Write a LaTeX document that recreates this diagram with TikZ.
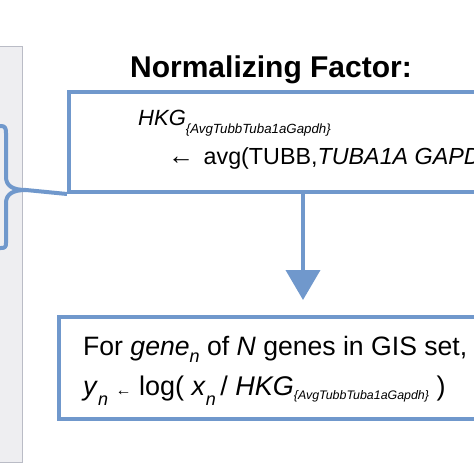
\documentclass[tikz,border=0pt]{standalone}
\usepackage{fontspec}
\setmainfont{Liberation Sans}
\usetikzlibrary{arrows.meta}

\definecolor{flowblue}{RGB}{112,152,204}
\definecolor{panelgray}{RGB}{238,238,241}
\definecolor{panelline}{RGB}{186,188,198}

\tikzset{
  flowbox/.style={draw=flowblue, line width=4pt, rectangle, fill=white, inner sep=0pt},
  panel/.style={draw=panelline, line width=1pt, fill=panelgray, rectangle, inner sep=0pt},
  flowline/.style={draw=flowblue, line width=4pt},
  label/.style={inner sep=0pt, anchor=base west}
}

% #1 size of the subscript, #2 how far it drops
\newcommand{\hkgsub}[2]{\textit{HKG}\raisebox{-#2}{\fontsize{#1}{#1}\selectfont\textit{\{AvgTubbTuba1aGapdh\}}}}
\newcommand{\subn}[1]{\raisebox{-#1}{\fontsize{18}{18}\selectfont\textit{n}}}

\begin{document}
\begin{tikzpicture}[x=1pt, y=-1pt]
    \useasboundingbox (0,0) rectangle (474,474);
    \clip (0,0) rectangle (474,474);

    % left panel and brace
    \node[panel, anchor=north east, minimum width=40, minimum height=416] (side) at (23,46) {};
    \coordinate (bracetip) at (26,190);
    \draw[flowline, line join=round]
      (-2,126) -- (1,126) .. controls (5,126) and (6,128) .. (6,133) -- (6,177)
      .. controls (6,186) and (13,190) .. (bracetip)
      .. controls (13,190) and (6,194) .. (6,203) -- (6,243)
      .. controls (6,247) and (5,248) .. (1,248) -- (-2,248);

    % normalizing factor
    \node[inner sep=0pt, anchor=base, font=\fontsize{30}{34}\selectfont\bfseries] (title) at (271,77) {Normalizing Factor:};
    \node[flowbox, anchor=north west, minimum width=480, minimum height=100] (norm) at (67,90) {};
    \node[label, font=\fontsize{22}{26}\selectfont] (hkg) at (138,125) {\hkgsub{13.3}{8pt}};
    \node[label, font=\fontsize{23.3}{27}\selectfont] (avg) at (168,164)
      {{\fontsize{26}{26}\selectfont ←}\hspace{3pt} avg(TUBB,\textit{TUBA1A GAPDH})};
    \draw[flowline] (bracetip) -- (norm.south west);

    % per gene step
    \node[flowbox, anchor=north west, minimum width=480, minimum height=102] (gis) at (57,315) {};
    \node[label, font=\fontsize{26.6}{30}\selectfont] (forgene) at (83,355)
      {For \textit{gene}\subn{7pt} of \textit{N} genes in GIS set,};
    \node[label, font=\fontsize{27}{31}\selectfont] (yn) at (83,395)
      {\textit{y}\subn{10pt} {\fontsize{16}{16}\selectfont ←} log( \textit{x}\subn{10pt}\,/ \hkgsub{12.4}{4pt} )};

    \coordinate (tip) at (303,300);
    \draw[flowline, -{Triangle[length=30pt, width=34pt]}] (norm.south -| tip) -- (tip);
\end{tikzpicture}
\end{document}
